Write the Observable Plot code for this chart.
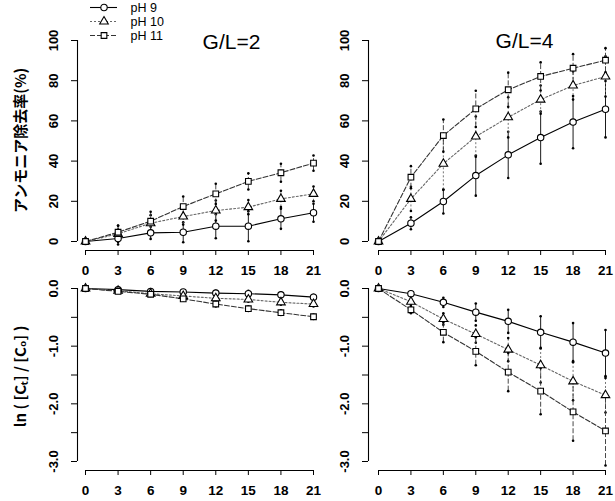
<!DOCTYPE html>
<html><head><meta charset="utf-8">
<script src="https://cdn.jsdelivr.net/npm/d3@7"></script>
<script src="https://cdn.jsdelivr.net/npm/@observablehq/plot@0.6"></script>
<style>
body{margin:0;background:#fff;}
#chart{position:relative;width:615px;height:501px;background:#fff;overflow:hidden;}
#chart svg{position:absolute;left:0;top:0;}
</style></head><body><div id="chart"></div>
<script>
// ---- data ----
const days = [0, 3, 6, 9, 12, 15, 18, 21];
const seriesNames = ["pH 9", "pH 10", "pH 11"];
const xTicks = [0, 3, 6, 9, 12, 15, 18, 21];
const remTicks = [0, 20, 40, 60, 80, 100];
const remTickLabels = ["0", "20", "40", "60", "80", "100"];
const lnTicks = [0, -0.5, -1, -1.5, -2, -2.5, -3];
const lnLabelTicks = [0, -1, -2, -3];
const lnTickLabels = ["0.0", "-1.0", "-2.0", "-3.0"];
const panelTitles = ["G/L=2", "G/L=4"];
const yLabelRemoval = "アンモニア除去率(%)";
const yLabelLn = "ln ( [Cₜ] / [C₀] )";

// ammonia removal rate (%), G/L=2
const rem2_pH9  = [0, 1.5, 4.3, 4.6, 7.6, 7.6, 11.3, 14.3];
const rem2_pH10 = [0, 3.8, 9.1, 12.4, 15.4, 17.1, 21.2, 23.7];
const rem2_pH11 = [0, 4.6, 10.1, 17.4, 23.7, 29.9, 34.2, 39.0];
const rem2_pH9_sd  = [0, 3, 3, 5, 6, 7.5, 5, 4.5];
const rem2_pH10_sd = [0, 4, 4, 4, 5, 3.5, 4, 3.7];
const rem2_pH11_sd = [0, 3.3, 4.7, 5, 5, 4, 4.5, 3.8];
// ammonia removal rate (%), G/L=4
const rem4_pH9  = [0, 9.1, 19.9, 32.8, 43.1, 51.7, 59.4, 65.8];
const rem4_pH10 = [0, 21.2, 38.7, 52.2, 61.8, 70.6, 77.6, 82.1];
const rem4_pH11 = [0, 32.0, 52.7, 66.0, 75.5, 82.1, 86.2, 90.2];
const rem4_pH9_sd  = [0, 3, 6, 10, 11.5, 13, 13, 14];
const rem4_pH10_sd = [0, 6, 13, 10, 10, 7, 7, 10];
const rem4_pH11_sd = [0, 5.5, 8, 9, 8.5, 7, 7, 6];
// ln(Ct/C0), G/L=2
const ln2_pH9  = [0, -0.02, -0.05, -0.06, -0.08, -0.09, -0.11, -0.15];
const ln2_pH10 = [0, -0.04, -0.09, -0.13, -0.17, -0.19, -0.24, -0.27];
const ln2_pH11 = [0, -0.05, -0.10, -0.18, -0.27, -0.35, -0.42, -0.49];
const ln2_pH9_sd  = [0, 0.02, 0.02, 0.03, 0.04, 0.05, 0.04, 0.04];
const ln2_pH10_sd = [0, 0.02, 0.03, 0.03, 0.04, 0.04, 0.04, 0.04];
const ln2_pH11_sd = [0, 0.02, 0.03, 0.03, 0.04, 0.04, 0.04, 0.04];
// ln(Ct/C0), G/L=4
const ln4_pH9  = [0, -0.09, -0.24, -0.41, -0.57, -0.76, -0.93, -1.12];
const ln4_pH10 = [0, -0.23, -0.53, -0.79, -1.06, -1.33, -1.61, -1.85];
const ln4_pH11 = [0, -0.37, -0.76, -1.09, -1.45, -1.78, -2.14, -2.47];
const ln4_pH9_sd  = [0, 0.03, 0.08, 0.15, 0.2, 0.28, 0.33, 0.4];
const ln4_pH10_sd = [0, 0.05, 0.1, 0.15, 0.2, 0.3, 0.33, 0.3];
const ln4_pH11_sd = [0, 0.06, 0.17, 0.24, 0.33, 0.4, 0.5, 0.6];

// ---- styles / layout ----
const seriesStyle = [
  {symbol: "circle",   stroke: "#000", dash: null},
  {symbol: "triangle", stroke: "#666", dash: "2,2"},
  {symbol: "square",   stroke: "#333", dash: "5,2"}
];
const xDomain = [0, 21];
const colLayout = [
  {marginLeft: 77, insetLeft: 8, marginRight: 302, titleDx: 36, titleDy: 2},
  {marginLeft: 368, insetLeft: 10, marginRight: 10, titleDx: 37.5, titleDy: 1}
];
const rowLayout = [
  {marginTop: 40, marginBottom: 251, insetBottom: 9, labelDy: -5},
  {marginTop: 288, marginBottom: 31, insetBottom: 9, labelDy: -3}
];
const FONT = "Liberation Sans, Arial, Helvetica, sans-serif";
const chart = document.getElementById("chart");

function rowsOf(vals, sds) {
  return days.map((d, i) => ({day: d, v: vals[i], sd: sds[i]}));
}

function panel(col, row, seriesVals, seriesSds, yDomain, yTicks, yLabelTicks, yLabels, yLabel, title) {
  const C = colLayout[col], R = rowLayout[row];
  const marks = [];
  // axes
  marks.push(Plot.ruleY([yDomain[0]], {x1: xDomain[0], x2: xDomain[1], dy: R.insetBottom, stroke: "#000", strokeWidth: 1.1}));
  marks.push(Plot.ruleX([xDomain[0]], {y1: yDomain[0], y2: yDomain[1], dx: -C.insetLeft, stroke: "#000", strokeWidth: 1.1}));
  marks.push(Plot.axisX({ticks: xTicks, tickSize: 5, tickPadding: 10, label: null, fontSize: 13.5, fontWeight: "bold", fontFamily: FONT}));
  marks.push(Plot.axisY({ticks: yTicks, tickSize: 6, tickFormat: () => "", label: null}));
  marks.push(Plot.text(yLabelTicks, {y: d => d, text: (d, i) => yLabels[i], frameAnchor: "left", dx: -24,
    rotate: -90, textAnchor: "middle", lineAnchor: "middle", fontSize: 13, fontWeight: "bold", fontFamily: FONT}));
  if (yLabel) {
    marks.push(Plot.text([yLabel], {frameAnchor: "left", dx: -56, dy: R.labelDy, rotate: -90, textAnchor: "middle",
      lineAnchor: "middle", fontSize: 15, fontWeight: "bold", fontFamily: "Noto Sans CJK JP, " + FONT}));
  }
  if (title) {
    marks.push(Plot.text([title], {frameAnchor: "top", dx: C.titleDx, dy: C.titleDy, lineAnchor: "middle",
      fontSize: 21, fontFamily: FONT}));
  }
  // data
  seriesVals.forEach((vals, s) => {
    const st = seriesStyle[s];
    const rows = rowsOf(vals, seriesSds[s]);
    const err = rows.filter(d => d.sd > 0);
    marks.push(Plot.ruleX(err, {x: "day", y1: d => d.v - d.sd, y2: d => d.v + d.sd, stroke: st.stroke,
      strokeWidth: 0.9, strokeDasharray: st.dash}));
    marks.push(Plot.dot(err.flatMap(d => [{day: d.day, e: d.v - d.sd}, {day: d.day, e: d.v + d.sd}]),
      {x: "day", y: "e", r: 1.3, fill: "#000", stroke: null}));
  });
  seriesVals.forEach((vals, s) => {
    const st = seriesStyle[s];
    marks.push(Plot.line(rowsOf(vals, seriesSds[s]), {x: "day", y: "v", stroke: st.stroke, strokeWidth: 1.1,
      strokeDasharray: st.dash}));
  });
  seriesVals.forEach((vals, s) => {
    const st = seriesStyle[s];
    marks.push(Plot.dot(rowsOf(vals, seriesSds[s]), {x: "day", y: "v", symbol: st.symbol, r: 3.2,
      fill: "white", stroke: "#000", strokeWidth: 1.1}));
  });
  const svg = Plot.plot({
    width: 615, height: 501,
    marginLeft: C.marginLeft, marginRight: C.marginRight,
    marginTop: R.marginTop, marginBottom: R.marginBottom,
    x: {domain: xDomain, insetLeft: C.insetLeft},
    y: {domain: yDomain, insetBottom: R.insetBottom},
    style: {background: "transparent", fontFamily: FONT, overflow: "visible"},
    marks
  });
  chart.appendChild(svg);
}

panel(0, 0, [rem2_pH9, rem2_pH10, rem2_pH11], [rem2_pH9_sd, rem2_pH10_sd, rem2_pH11_sd],
  [0, 100], remTicks, remTicks, remTickLabels, yLabelRemoval, panelTitles[0]);
panel(1, 0, [rem4_pH9, rem4_pH10, rem4_pH11], [rem4_pH9_sd, rem4_pH10_sd, rem4_pH11_sd],
  [0, 100], remTicks, remTicks, remTickLabels, null, panelTitles[1]);
panel(0, 1, [ln2_pH9, ln2_pH10, ln2_pH11], [ln2_pH9_sd, ln2_pH10_sd, ln2_pH11_sd],
  [-3, 0], lnTicks, lnLabelTicks, lnTickLabels, yLabelLn, null);
panel(1, 1, [ln4_pH9, ln4_pH10, ln4_pH11], [ln4_pH9_sd, ln4_pH10_sd, ln4_pH11_sd],
  [-3, 0], lnTicks, lnLabelTicks, lnTickLabels, null, null);

// ---- legend ----
const legendMarks = [];
seriesNames.forEach((name, s) => {
  const st = seriesStyle[s];
  legendMarks.push(Plot.ruleY([name], {y: d => d, stroke: st.stroke, strokeWidth: 1.1, strokeDasharray: st.dash}));
  legendMarks.push(Plot.dot([name], {y: d => d, symbol: st.symbol, r: 3.2, fill: "white", stroke: "#000", strokeWidth: 1.1}));
  legendMarks.push(Plot.text([name], {y: d => d, text: d => d, frameAnchor: "right", dx: 13, textAnchor: "start",
    lineAnchor: "middle", fontSize: 12.5, fontFamily: FONT}));
});
chart.appendChild(Plot.plot({
  width: 615, height: 501,
  marginLeft: 90, marginRight: 498, marginTop: 6, marginBottom: 466,
  y: {type: "point", domain: seriesNames, padding: 0, axis: null},
  style: {background: "transparent", fontFamily: FONT, overflow: "visible"},
  marks: legendMarks
}));
</script></body></html>
